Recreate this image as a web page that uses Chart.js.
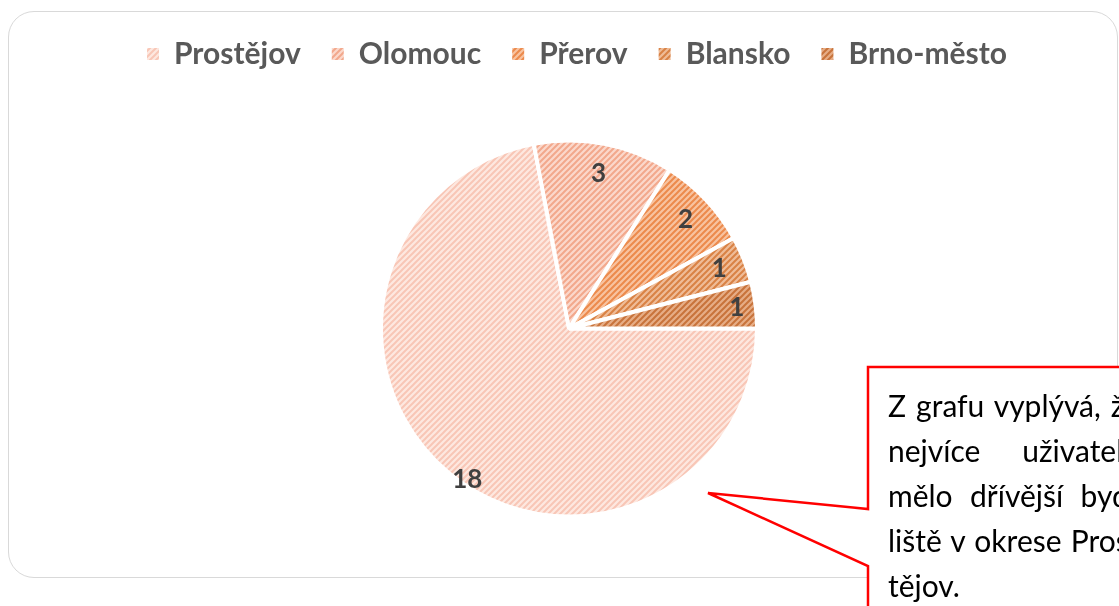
<!DOCTYPE html>
<html>
<head>
<meta charset="utf-8">
<script src="https://cdn.jsdelivr.net/npm/chart.js@4/dist/chart.umd.min.js"></script>
<style>
  html, body { margin: 0; padding: 0; background: #fff; }
  body { width: 1119px; height: 606px; position: relative; overflow: hidden; }
  #ramecek {
    position: absolute; left: 8px; top: 11px; width: 1108px; height: 565px;
    border: 1.5px solid #d9d9d9; border-radius: 26px;
  }
  #graf { position: absolute; left: 0; top: 0; }
  #bublina { position: absolute; left: 0; top: 0; }
  #text {
    position: absolute; left: 888px; top: 383px; width: 252px;
    font-family: Lato, sans-serif; font-size: 30px; line-height: 45px; color: #000;
  }
  #text div { text-align: justify; text-align-last: justify; white-space: nowrap; }
  #text div.posledni { text-align-last: left; }
</style>
</head>
<body>
<div id="ramecek"></div>
<canvas id="graf" width="1119" height="606"></canvas>
<svg id="bublina" width="1119" height="606">
  <polygon points="868,367 1140,367 1140,640 868,640 868,566 708,493 868,509"
           fill="#fff" stroke="#ff0000" stroke-width="2.5" stroke-linejoin="miter"/>
</svg>
<div id="text">
  <div>Z grafu vyplývá, že</div>
  <div>nejvíce uživatelů</div>
  <div>mělo dřívější byd-</div>
  <div>liště v okrese Pros-</div>
  <div class="posledni">tějov.</div>
</div>
<script>
// ---------------- data ----------------
const okresy = ['Prostějov', 'Olomouc', 'Přerov', 'Blansko', 'Brno-město'];
const pocty = [18, 3, 2, 1, 1];
const barvyPozadi = ['#fde8e0', '#fbd8cb', '#f8c3a0', '#efbc98', '#e6ad86'];
const barvyCar = ['#f8c6b6', '#f2a88c', '#ec8a4c', '#d98245', '#c8733b'];

// šrafovaná výplň jako v Excelu
function vzor(pozadi, cara) {
    const c = document.createElement('canvas');
    c.width = 6; c.height = 6;
    const x = c.getContext('2d');
    x.fillStyle = pozadi;
    x.fillRect(0, 0, 6, 6);
    x.strokeStyle = cara;
    x.lineWidth = 2;
    x.beginPath();
    x.moveTo(-1, 7); x.lineTo(7, -1);
    x.moveTo(-4, 4); x.lineTo(4, -4);
    x.moveTo(2, 10); x.lineTo(10, 2);
    x.stroke();
    return document.getElementById('graf').getContext('2d').createPattern(c, 'repeat');
}

const vyplne = barvyPozadi.map((b, i) => vzor(b, barvyCar[i]));

// popisky hodnot uvnitř výsečí
const popisky = {
    id: 'popisky',
    afterLayout(chart) {
        // legenda je v originále trochu vpravo od středu koláče
        chart.legend.left += 8;
        chart.legend.right += 8;
    },
    afterDatasetsDraw(chart, args, opts) {
        const ctx = chart.ctx;
        const meta = chart.getDatasetMeta(0);
        ctx.save();
        ctx.font = 'bold 26px Lato';
        ctx.fillStyle = '#404040';
        ctx.textAlign = 'center';
        ctx.textBaseline = 'middle';
        meta.data.forEach((arc, i) => {
            const p = arc.getProps(['x', 'y', 'startAngle', 'endAngle', 'outerRadius'], true);
            const uhel = (p.startAngle + p.endAngle) / 2 + opts.posun[i];
            const r = p.outerRadius * opts.polomer[i];
            ctx.fillText(pocty[i], p.x + Math.cos(uhel) * r, p.y + Math.sin(uhel) * r);
        });
        ctx.restore();
    }
};

const vychozi = Chart.overrides.pie.plugins.legend.labels.generateLabels;

new Chart(document.getElementById('graf'), {
    type: 'pie',
    data: {
        labels: okresy,
        datasets: [{
            data: pocty,
            backgroundColor: vyplne,
            borderColor: '#ffffff',
            borderWidth: 4
        }]
    },
    options: {
        responsive: false,
        animation: false,
        rotation: 90,
        radius: 188,
        layout: { padding: { left: 19, right: 0, top: 8, bottom: 28 } },
        plugins: {
            tooltip: { enabled: false },
            legend: {
                position: 'top',
                labels: {
                    boxWidth: 12,
                    boxHeight: 12,
                    padding: 31,
                    color: '#595959',
                    font: { family: 'Lato', size: 30, weight: 'bold' },
                    generateLabels(chart) {
                        return vychozi(chart).map(l => Object.assign(l, { lineWidth: 0, strokeStyle: 'rgba(0,0,0,0)' }));
                    }
                }
            },
            popisky: { polomer: [0.97, 0.84, 0.85, 0.86, 0.9], posun: [-0.1, 0, 0, 0, 0] }
        }
    },
    plugins: [popisky]
});
</script>
</body>
</html>
